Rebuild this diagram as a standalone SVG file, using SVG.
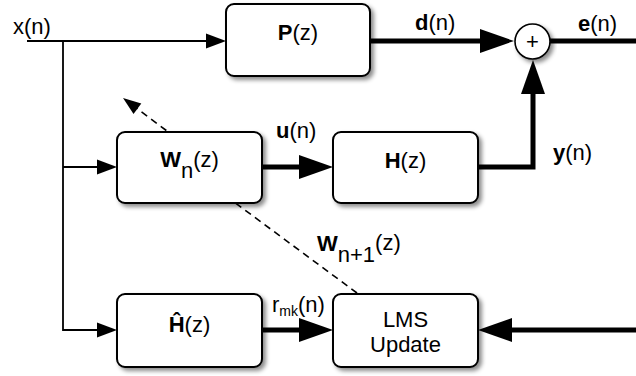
<svg xmlns="http://www.w3.org/2000/svg" width="636" height="376" viewBox="0 0 636 376">
<style>
text{font-family:"Liberation Sans",Arial,sans-serif;font-size:22px;fill:#000}
.b{font-weight:bold}
.box{fill:#fff;stroke:#000;stroke-width:2;filter:url(#sh)}
.thin{fill:none;stroke:#000;stroke-width:1.8}
.thick{fill:none;stroke:#000;stroke-width:5}
.dash{fill:none;stroke:#000;stroke-width:1.6;stroke-dasharray:7 5}
</style>
<defs>
<filter id="sh" x="-10%" y="-10%" width="130%" height="140%">
<feDropShadow dx="3" dy="3" stdDeviation="2.2" flood-color="#000" flood-opacity="0.45"/>
</filter>
<marker id="a" markerUnits="userSpaceOnUse" markerWidth="21" markerHeight="16" refX="6" refY="7.5" orient="auto" overflow="visible">
<path d="M0,0 L20,7.5 L0,15z" fill="#000"/>
</marker>
<marker id="A" markerUnits="userSpaceOnUse" markerWidth="36" markerHeight="26" refX="10" refY="12" orient="auto" overflow="visible">
<path d="M0,0 L34,12 L0,24z" fill="#000"/>
</marker>
<marker id="d" markerUnits="userSpaceOnUse" markerWidth="20" markerHeight="14" refX="6" refY="6.5" orient="auto" overflow="visible">
<path d="M0,0 L18,6.5 L0,13z" fill="#000"/>
</marker>
</defs>
<rect width="636" height="376" fill="#fff"/>
<g id="connectors">
<path class="thin" d="M27,41 H212" marker-end="url(#a)"/>
<path class="thin" d="M63,41 V330 H103" marker-end="url(#a)"/>
<path class="thin" d="M63,167 H103" marker-end="url(#a)"/>
<path class="thick" d="M370,41 H490" marker-end="url(#A)"/>
<path class="thick" d="M550,41 H636"/>
<path class="thick" d="M478,167 H533 V84" marker-end="url(#A)"/>
<path class="thick" d="M262,167 H309" marker-end="url(#A)"/>
<path class="thick" d="M262,330 H309" marker-end="url(#A)"/>
<path class="thick" d="M636,330 H502" marker-end="url(#A)"/>
<path class="dash" d="M357,293 L224.6,195 L179,140 L132.6,105.2" marker-end="url(#d)"/>
</g>
<g id="labels">
<text x="13" y="34">x(n)</text>
<text x="415" y="30"><tspan class="b">d</tspan>(n)</text>
<text x="578" y="31"><tspan class="b">e</tspan>(n)</text>
<text x="276" y="138"><tspan class="b">u</tspan>(n)</text>
<text x="553" y="160"><tspan class="b">y</tspan>(n)</text>
<text x="317" y="251"><tspan class="b">W</tspan><tspan dy="11">n+1</tspan><tspan dy="-12">(z)</tspan></text>
<text x="272" y="312">r<tspan dy="4" font-size="14">mk</tspan><tspan dy="-4">(n)</tspan></text>
</g>
<g id="P">
<rect class="box" x="226" y="4" width="144" height="72" rx="8"/>
<text x="298" y="40" text-anchor="middle"><tspan class="b">P</tspan>(z)</text>
</g>
<g id="sum">
<circle cx="532.5" cy="41.5" r="17.5" fill="#fff" stroke="#000" stroke-width="1.6" filter="url(#sh)"/>
<text x="532.5" y="49" text-anchor="middle">+</text>
</g>
<g id="W">
<rect class="box" x="117" y="132" width="145" height="71" rx="8"/>
<text x="189.5" y="167" text-anchor="middle"><tspan class="b">W</tspan><tspan dy="11">n</tspan><tspan dy="-11">(z)</tspan></text>
</g>
<g id="H">
<rect class="box" x="333" y="132" width="145" height="71" rx="8"/>
<text x="405.5" y="168" text-anchor="middle"><tspan class="b">H</tspan>(z)</text>
</g>
<g id="Hhat">
<rect class="box" x="117" y="294" width="145" height="73" rx="8"/>
<text x="189.5" y="332" text-anchor="middle"><tspan class="b">Ĥ</tspan>(z)</text>
</g>
<g id="LMS">
<rect class="box" x="333" y="294" width="145" height="73" rx="8"/>
<text x="405.5" y="327" text-anchor="middle">LMS</text>
<text x="405.5" y="352" text-anchor="middle">Update</text>
</g>
</svg>
